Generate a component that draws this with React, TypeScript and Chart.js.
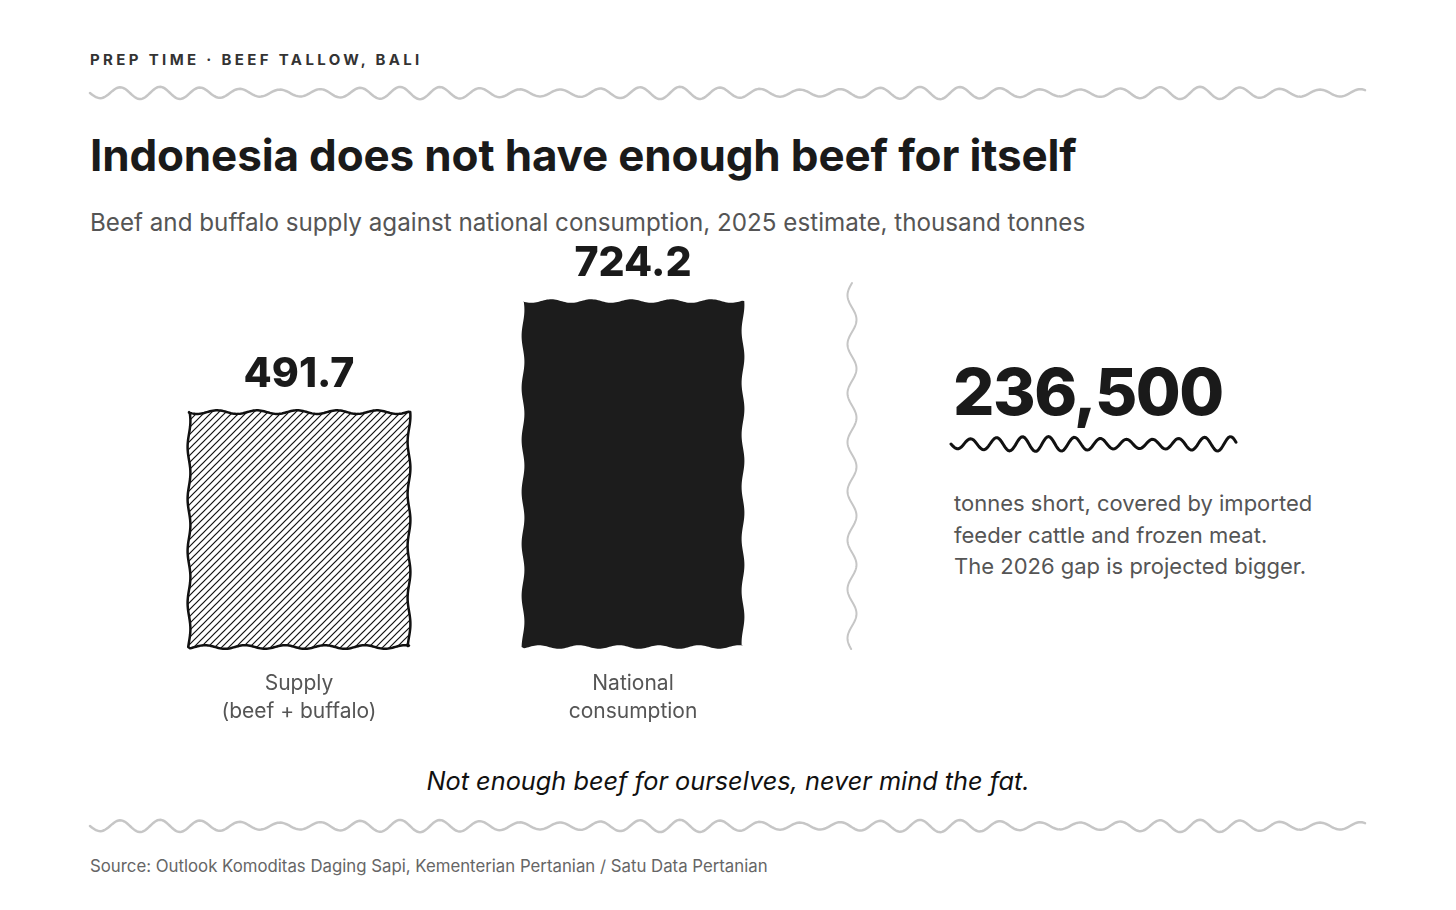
import React, { useEffect, useRef } from "react";
import { Chart, registerables } from "chart.js";

Chart.register(...registerables);

// ---- Data ----
const categoryLines: string[][] = [
  ["Supply", "(beef + buffalo)"],
  ["National", "consumption"],
];
const seriesValues: number[] = [491.7, 724.2];
const valueLabels: string[] = ["491.7", "724.2"];
const gapLabel = "236,500";
const yMax = 852;

const FONT = "Inter, 'Noto Sans', sans-serif";

function wavyRect(
  ctx: CanvasRenderingContext2D,
  l: number,
  t: number,
  r: number,
  b: number,
  amp: number,
  sideAmp: number,
  period: number
) {
  const step = 1.5;
  const TAU = Math.PI * 2;
  ctx.beginPath();
  ctx.moveTo(l, t);
  for (let x = l; x <= r; x += step)
    ctx.lineTo(x, t + amp * Math.sin(((x - l) / period) * TAU + 0.3));
  for (let y = t; y <= b; y += step)
    ctx.lineTo(r + sideAmp * Math.sin(((y - t) / (period * 1.3)) * TAU + 1.1), y);
  for (let x = r; x >= l; x -= step)
    ctx.lineTo(x, b + amp * Math.sin(((x - l) / period) * TAU + 2.2));
  for (let y = b; y >= t; y -= step)
    ctx.lineTo(l + sideAmp * Math.sin(((y - t) / (period * 1.3)) * TAU + 0.5), y);
  ctx.closePath();
}

function makeHatch(): CanvasPattern | string {
  const c = document.createElement("canvas");
  const s = 7;
  c.width = s;
  c.height = s;
  const g = c.getContext("2d");
  if (!g) return "#fff";
  g.fillStyle = "#fff";
  g.fillRect(0, 0, s, s);
  g.strokeStyle = "#111";
  g.lineWidth = 1.2;
  g.beginPath();
  g.moveTo(-1, s + 1);
  g.lineTo(s + 1, -1);
  g.moveTo(-1, 1);
  g.lineTo(1, -1);
  g.moveTo(s - 1, s + 1);
  g.lineTo(s + 1, s - 1);
  g.stroke();
  return g.createPattern(c, "repeat") || "#fff";
}

function hWave(
  x0: number,
  x1: number,
  y: number,
  period: number,
  a0: number,
  a1: number,
  modPeriod: number,
  phase = 0
) {
  let d = "";
  for (let x = x0; x <= x1 + 0.01; x += 1.5) {
    const A = a0 + a1 * Math.sin((2 * Math.PI * (x - x0)) / modPeriod + phase);
    const yy = y + A * Math.sin((2 * Math.PI * (x - x0)) / period);
    d += (d ? " L" : "M") + x.toFixed(1) + " " + yy.toFixed(2);
  }
  return d;
}

function vWave(y0: number, y1: number, x: number, period: number, a: number) {
  let d = "";
  for (let y = y0; y <= y1 + 0.01; y += 1.5) {
    const xx = x - a * Math.sin((2 * Math.PI * (y - y0)) / period);
    d += (d ? " L" : "M") + xx.toFixed(2) + " " + y.toFixed(1);
  }
  return d;
}

export default function App() {
  const canvasRef = useRef<HTMLCanvasElement | null>(null);

  useEffect(() => {
    const canvas = canvasRef.current;
    if (!canvas) return;
    const hatch = makeHatch();

    const wavyBars = {
      id: "wavyBars",
      afterDatasetsDraw(chart: any) {
        const ctx: CanvasRenderingContext2D = chart.ctx;
        const meta = chart.getDatasetMeta(0);
        meta.data.forEach((el: any, i: number) => {
          const p = el.getProps(["x", "y", "base", "width"], true);
          const l = p.x - p.width / 2;
          const r = p.x + p.width / 2;
          ctx.save();
          wavyRect(ctx, l, p.y, r, p.base, 1.8, 1.4, 40);
          if (i === 0) {
            ctx.fillStyle = hatch as any;
            ctx.fill();
            ctx.lineWidth = 2.5;
            ctx.strokeStyle = "#111";
            ctx.lineJoin = "round";
            ctx.stroke();
          } else {
            ctx.fillStyle = "#1c1c1c";
            ctx.fill();
          }
          ctx.fillStyle = "#1a1a1a";
          ctx.textAlign = "center";
          ctx.textBaseline = "alphabetic";
          ctx.font = `800 41px ${FONT}`;
          ctx.fillText(valueLabels[i], p.x, p.y - 25);
          ctx.font = `400 21px ${FONT}`;
          ctx.fillStyle = "#555";
          categoryLines[i].forEach((line, k) => {
            ctx.fillText(line, p.x, p.base + 43 + k * 28);
          });
          ctx.restore();
        });
      },
    };

    const chart = new Chart(canvas, {
      type: "bar",
      data: {
        labels: categoryLines.map((c) => c.join(" ")),
        datasets: [
          {
            data: seriesValues,
            backgroundColor: "rgba(0,0,0,0)",
            borderWidth: 0,
            barPercentage: 1,
            categoryPercentage: 220 / 334,
          },
        ],
      },
      options: {
        responsive: false,
        maintainAspectRatio: false,
        animation: false,
        events: [],
        layout: { padding: { top: 0, bottom: 93, left: 0, right: 0 } },
        plugins: {
          legend: { display: false },
          tooltip: { enabled: false },
        },
        scales: {
          x: { display: false },
          y: { display: false, min: 0, max: yMax },
        },
      },
      plugins: [wavyBars],
    } as any);

    return () => chart.destroy();
  }, []);

  const abs = (o: React.CSSProperties): React.CSSProperties => ({
    position: "absolute",
    whiteSpace: "nowrap",
    margin: 0,
    ...o,
  });

  return (
    <div
      style={{
        position: "absolute",
        left: 0,
        top: 0,
        width: 1456,
        height: 910,
        background: "#fff",
        fontFamily: FONT,
        overflow: "hidden",
      }}
    >
      <div
        style={abs({
          left: 90,
          top: 52,
          fontSize: 15,
          lineHeight: "15px",
          fontWeight: 700,
          letterSpacing: 3.35,
          color: "#333",
        })}
      >
        PREP TIME · BEEF TALLOW, BALI
      </div>
      <div
        style={abs({
          left: 90,
          top: 133,
          fontSize: 44,
          lineHeight: "44px",
          fontWeight: 700,
          letterSpacing: -0.15,
          color: "#1a1a1a",
        })}
      >
        Indonesia does not have enough beef for itself
      </div>
      <div
        style={abs({
          left: 90,
          top: 211,
          fontSize: 24.2,
          lineHeight: "24px",
          fontWeight: 400,
          color: "#555",
        })}
      >
        Beef and buffalo supply against national consumption, 2025 estimate, thousand tonnes
      </div>

      <canvas
        ref={canvasRef}
        width={668}
        height={500}
        style={{ position: "absolute", left: 132, top: 240, width: 668, height: 500 }}
      />

      <div
        style={abs({
          left: 953,
          top: 359,
          fontSize: 65,
          lineHeight: "65px",
          fontWeight: 800,
          letterSpacing: -1.5,
          color: "#1a1a1a",
        })}
      >
        {gapLabel}
      </div>
      <div
        style={abs({
          left: 954,
          top: 488,
          fontSize: 22,
          lineHeight: "31.7px",
          fontWeight: 400,
          color: "#555",
        })}
      >
        tonnes short, covered by imported
        <br />
        feeder cattle and frozen meat.
        <br />
        The 2026 gap is projected bigger.
      </div>

      <div
        style={abs({
          left: 0,
          width: 1456,
          top: 768,
          fontSize: 25.3,
          lineHeight: "25px",
          fontStyle: "italic",
          fontWeight: 400,
          color: "#111",
          textAlign: "center",
        })}
      >
        Not enough beef for ourselves, never mind the fat.
      </div>
      <div
        style={abs({
          left: 90,
          top: 858,
          fontSize: 16.8,
          lineHeight: "16px",
          fontWeight: 400,
          color: "#666",
        })}
      >
        Source: Outlook Komoditas Daging Sapi, Kementerian Pertanian / Satu Data Pertanian
      </div>

      <svg
        width={1456}
        height={910}
        style={{ position: "absolute", left: 0, top: 0, pointerEvents: "none" }}
      >
        <path
          d={hWave(90, 1366, 93, 40, 4.8, 1.4, 260)}
          fill="none"
          stroke="#c6c6c6"
          strokeWidth={2.5}
          strokeLinecap="round"
        />
        <path
          d={hWave(90, 1366, 826, 40, 4.8, 1.4, 260)}
          fill="none"
          stroke="#c6c6c6"
          strokeWidth={2.5}
          strokeLinecap="round"
        />
        <path
          d={vWave(283, 650, 852, 49, 4.5)}
          fill="none"
          stroke="#c6c6c6"
          strokeWidth={2}
          strokeLinecap="round"
        />
        <path
          d={hWave(951, 1237, 444, 26, 6, 1.4, 200, -1.2)}
          fill="none"
          stroke="#111"
          strokeWidth={3}
          strokeLinecap="round"
        />
      </svg>
    </div>
  );
}
